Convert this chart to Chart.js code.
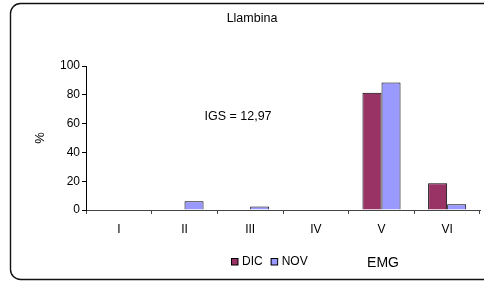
<!DOCTYPE html>
<html>
<head>
<meta charset="utf-8">
<script src="https://cdn.jsdelivr.net/npm/chart.js@4/dist/chart.umd.min.js"></script>
<style>
  html, body { margin: 0; padding: 0; background: #fff; }
  #wrap { width: 484px; height: 282px; }
</style>
</head>
<body>
<div id="wrap"><canvas id="chart" width="484" height="282"></canvas></div>
<script>
const categories = ['I', 'II', 'III', 'IV', 'V', 'VI'];
const dicValues = [0, 0, 0, 0, 81.5, 18.5];
const novValues = [0, 6, 2.5, 0, 88.5, 4];
const yTicks = [0, 20, 40, 60, 80, 100];

const FONT = "'Liberation Sans', Arial, sans-serif";

// Marco, títulos y leyenda dibujados a mano
const extras = {
    id: 'extras',
    afterDraw(chart) {
        const ctx = chart.ctx;
        const area = chart.chartArea;
        ctx.save();

        // marco redondeado
        ctx.strokeStyle = '#111';
        ctx.lineWidth = 1.4;
        ctx.beginPath();
        ctx.roundRect(10.5, 3.5, 490, 276, 10);
        ctx.stroke();

        ctx.fillStyle = '#000';
        ctx.textAlign = 'center';
        ctx.textBaseline = 'middle';

        ctx.font = '12.5px ' + FONT;
        ctx.fillText('Llambina', 252, 19);
        ctx.fillText('IGS = 12,97', 238, 117);

        ctx.font = '14px ' + FONT;
        ctx.fillText('EMG', 383, 263);

        ctx.save();
        ctx.translate(40, (area.top + area.bottom) / 2);
        ctx.rotate(-Math.PI / 2);
        ctx.font = '13px ' + FONT;
        ctx.fillText('%', 0, 0);
        ctx.restore();

        // leyenda
        ctx.font = '12px ' + FONT;
        ctx.textAlign = 'left';
        let x = 231;
        chart.data.datasets.forEach(ds => {
            ctx.fillStyle = ds.backgroundColor;
            ctx.fillRect(x, 258, 7, 7);
            ctx.strokeStyle = '#000';
            ctx.lineWidth = 1;
            ctx.strokeRect(x + 0.5, 258.5, 6.5, 6.5);
            ctx.fillStyle = '#000';
            ctx.fillText(ds.label, x + 11, 262);
            x += 11 + ctx.measureText(ds.label).width + 8;
        });

        ctx.restore();
    }
};

new Chart(document.getElementById('chart').getContext('2d'), {
    type: 'bar',
    data: {
        labels: categories,
        datasets: [
            {
                label: 'DIC',
                data: dicValues,
                backgroundColor: '#993366',
                borderColor: '#000',
                borderWidth: 1
            },
            {
                label: 'NOV',
                data: novValues,
                backgroundColor: '#9999FF',
                borderColor: '#000',
                borderWidth: 1
            }
        ]
    },
    options: {
        responsive: false,
        animation: false,
        devicePixelRatio: 1,
        layout: { padding: { left: 0, top: 66, right: 4, bottom: 0 } },
        datasets: {
            bar: { categoryPercentage: 0.58, barPercentage: 1.0 }
        },
        plugins: {
            legend: { display: false },
            title: { display: false },
            tooltip: { enabled: false }
        },
        scales: {
            x: {
                offset: true,
                grid: {
                    offset: true,
                    drawOnChartArea: false,
                    drawTicks: true,
                    tickLength: 4,
                    color: '#444'
                },
                border: { color: '#444', width: 1 },
                ticks: {
                    color: '#000',
                    font: { family: FONT, size: 12 },
                    padding: 8,
                    maxRotation: 0
                },
                afterFit(scale) { scale.height = 72; }
            },
            y: {
                min: 0,
                max: 100,
                afterBuildTicks(scale) {
                    scale.ticks = yTicks.map(v => ({ value: v }));
                },
                grid: {
                    drawOnChartArea: false,
                    drawTicks: true,
                    tickLength: 4,
                    color: '#000'
                },
                border: { color: '#000', width: 1 },
                ticks: {
                    color: '#000',
                    font: { family: FONT, size: 12 },
                    padding: 2
                },
                afterFit(scale) { scale.width = 86; }
            }
        }
    },
    plugins: [extras]
});
</script>
</body>
</html>
